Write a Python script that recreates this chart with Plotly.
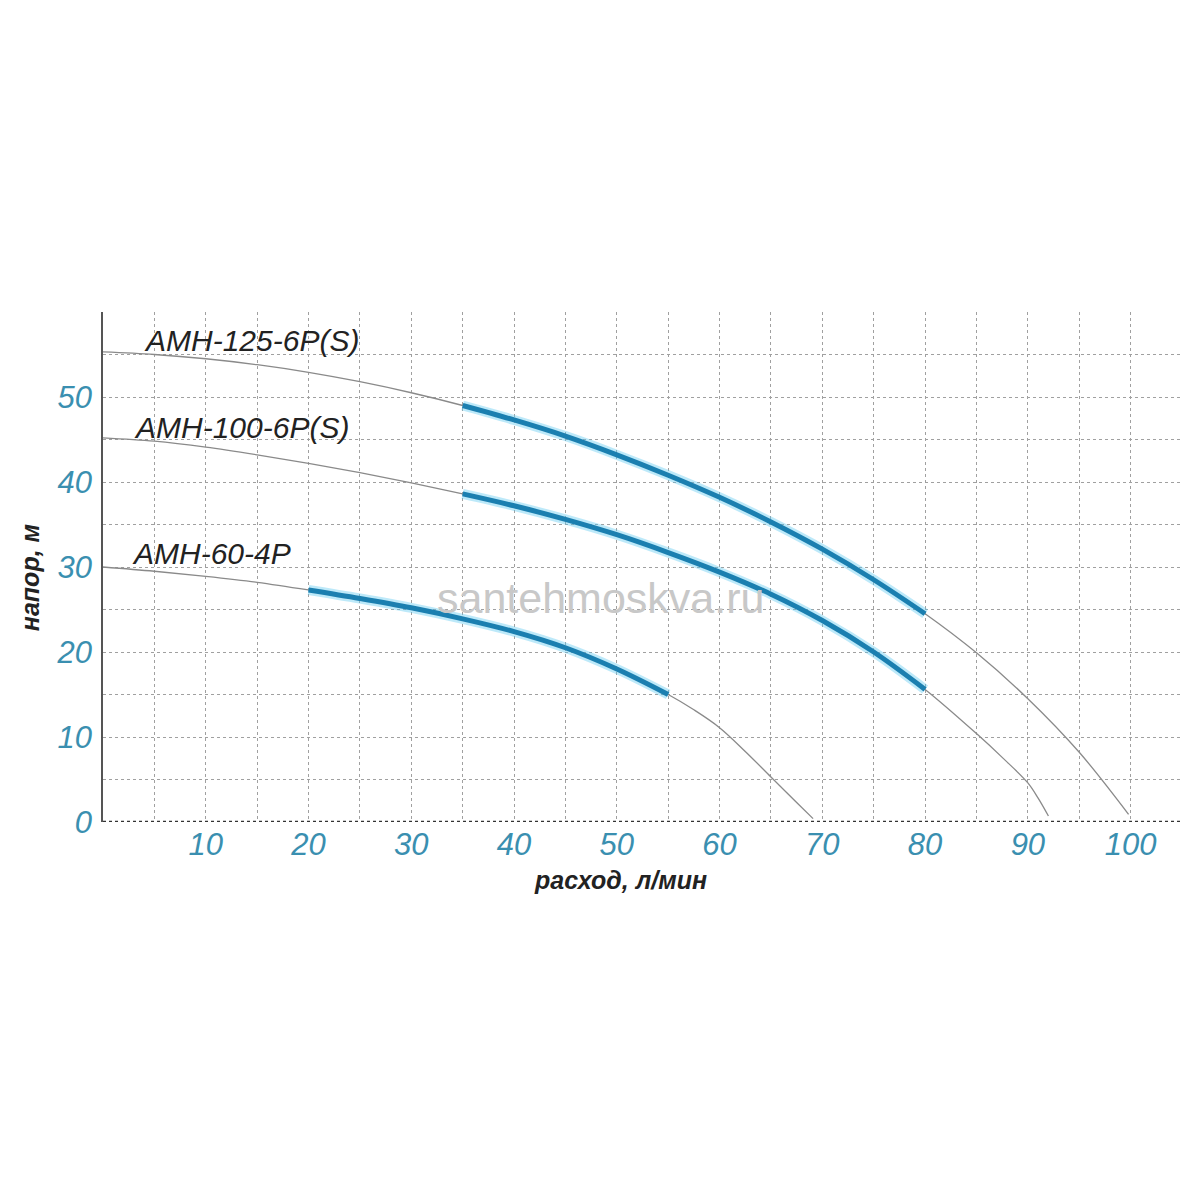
import plotly.graph_objects as go

# pump curves (flow l/min, head m)
amh125_x = [0, 5, 10, 15, 20, 25, 30, 35, 40, 45, 50, 55, 60, 65, 70, 75, 80, 85, 90, 95, 99.8]
amh125_y = [55.3, 55.0, 54.5, 53.8, 52.9, 51.8, 50.5, 49.0, 47.3, 45.4, 43.2, 40.8, 38.2, 35.3, 32.1, 28.5, 24.5, 19.9, 14.5, 8.2, 0.9]
amh125_work = [35, 80]

amh100_x = [0, 5, 10, 15, 20, 25, 30, 35, 40, 45, 50, 55, 60, 65, 70, 75, 80, 85, 87.5, 90, 91, 92]
amh100_y = [45.2, 44.8, 44.1, 43.2, 42.2, 41.1, 39.9, 38.6, 37.2, 35.6, 33.8, 31.7, 29.4, 26.8, 23.7, 20.0, 15.6, 10.4, 7.6, 4.6, 2.8, 0.7]
amh100_work = [35, 80]

amh60_x = [0, 5, 10, 15, 20, 25, 30, 35, 40, 45, 50, 55, 57.5, 60, 62.5, 65, 67.5, 69.1]
amh60_y = [30.0, 29.5, 28.9, 28.2, 27.3, 26.3, 25.2, 23.9, 22.4, 20.5, 18.0, 15.0, 13.2, 11.1, 8.3, 5.3, 2.3, 0.4]
amh60_work = [20, 55]

model_names = ["AMH-125-6P(S)", "AMH-100-6P(S)", "AMH-60-4P"]

x_ticks = [0, 5, 10, 15, 20, 25, 30, 35, 40, 45, 50, 55, 60, 65, 70, 75, 80, 85, 90, 95, 100, 105]
x_labels = ["", "", "10", "", "20", "", "30", "", "40", "", "50", "", "60", "", "70", "", "80", "", "90", "", "100", ""]
y_ticks = [0, 5, 10, 15, 20, 25, 30, 35, 40, 45, 50, 55, 60]
y_labels = ["0", "", "10", "", "20", "", "30", "", "40", "", "50", "", ""]

GRAY = "#8a8a8a"
BLUE = "#1b7fb0"
TICK = "#3a8fb0"

fig = go.Figure()

curves = [(amh125_x, amh125_y, amh125_work), (amh100_x, amh100_y, amh100_work), (amh60_x, amh60_y, amh60_work)]

for xs, ys, work in curves:
    # whole characteristic in thin gray
    fig.add_trace(go.Scatter(x=xs, y=ys, mode="lines",
                             line=dict(color=GRAY, width=1.3, shape="spline", smoothing=1.0),
                             hoverinfo="skip", showlegend=False))

for xs, ys, work in curves:
    wx = [x for x in xs if work[0] <= x <= work[1]]
    wy = [y for x, y in zip(xs, ys) if work[0] <= x <= work[1]]
    # soft glow under the working range
    fig.add_trace(go.Scatter(x=wx, y=wy, mode="lines",
                             line=dict(color="rgba(90,200,240,0.4)", width=10, shape="spline"),
                             hoverinfo="skip", showlegend=False))
    fig.add_trace(go.Scatter(x=wx, y=wy, mode="lines",
                             line=dict(color=BLUE, width=5, shape="spline"),
                             showlegend=False))

# model labels
label_pos = [(3.8, 56.7), (2.8, 46.4), (2.6, 31.6)]
for name, (lx, ly) in zip(model_names, label_pos):
    fig.add_annotation(x=lx, y=ly, text="<i>" + name + "</i>", showarrow=False, xanchor="left", yanchor="middle",
                       font=dict(family="Liberation Sans", size=30, color="#222222"))

# watermark
fig.add_annotation(x=0.4615, y=0.439, xref="paper", yref="paper", text="santehmoskva.ru", showarrow=False,
                   xanchor="center", yanchor="middle",
                   font=dict(family="Liberation Sans", size=43, color="#c8c8c8"))

# axis titles
fig.add_annotation(x=0.48, y=-0.114, xref="paper", yref="paper", text="<b><i>расход, л/мин</i></b>", showarrow=False,
                   xanchor="center", yanchor="middle",
                   font=dict(family="Liberation Sans", size=25, color="#222222"))
fig.add_annotation(x=-0.0677, y=0.48, xref="paper", yref="paper", text="<b><i>напор, м</i></b>", showarrow=False,
                   xanchor="center", yanchor="middle", textangle=-90,
                   font=dict(family="Liberation Sans", size=25, color="#222222"))

fig.update_xaxes(range=[0, 105], tickmode="array", tickvals=x_ticks, ticktext=x_labels,
                 showgrid=True, gridcolor="#a0a0a0", griddash="dot", gridwidth=1,
                 zeroline=False, showline=False, ticks="", ticklabelstandoff=1, automargin=False,
                 tickfont=dict(family="Liberation Sans", size=31, color=TICK, style="italic"))
fig.update_yaxes(range=[0, 60], tickmode="array", tickvals=y_ticks, ticktext=y_labels,
                 showgrid=True, gridcolor="#a0a0a0", griddash="dot", gridwidth=1,
                 zeroline=False, showline=True, linecolor="#555555", linewidth=1.5, ticks="",
                 ticklabelstandoff=3, automargin=False,
                 tickfont=dict(family="Liberation Sans", size=31, color=TICK, style="italic"))

# bottom axis drawn as a dark dashed line
fig.add_shape(type="line", xref="paper", yref="y", x0=0, x1=1, y0=0, y1=0,
              line=dict(color="#333333", width=2.5, dash="dot"))

# the page adds an 8px body margin, so the margins are trimmed by that much
fig.update_layout(width=1200, height=1200, plot_bgcolor="white", paper_bgcolor="white",
                  margin=dict(l=95, r=26, t=304, b=386), showlegend=False)

fig.write_html("out.html")
